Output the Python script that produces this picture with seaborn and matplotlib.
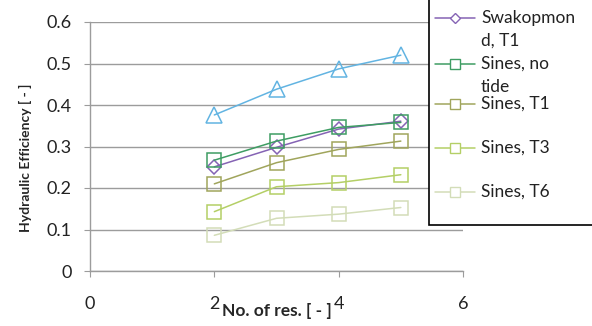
import matplotlib
matplotlib.use("Agg")
import matplotlib.pyplot as plt
import matplotlib.patches as mpatches
from matplotlib.lines import Line2D
import seaborn as sns
import pandas as pd

# data
n_res = [2, 3, 4, 5]
no_label_series = [0.376, 0.438, 0.487, 0.520]
swakopmond_t1 = [0.251, 0.298, 0.342, 0.361]
sines_no_tide = [0.267, 0.313, 0.346, 0.358]
sines_t1 = [0.210, 0.261, 0.293, 0.313]
sines_t3 = [0.143, 0.203, 0.213, 0.232]
sines_t6 = [0.086, 0.127, 0.137, 0.153]

# legend text as wrapped in the original (blue series has no entry)
legend_lines = [["Swakopmon", "d, T1"], ["Sines, no", "tide"],
                ["Sines, T1"], ["Sines, T3"], ["Sines, T6"]]
x_ticks = [0, 2, 4, 6]
y_ticks = [0, 0.1, 0.2, 0.3, 0.4, 0.5, 0.6]
y_ticklabels = ['0', '0.1', '0.2', '0.3', '0.4', '0.5', '0.6']

sns.set_style("white")
plt.rcParams['font.family'] = ['Lato', 'DejaVu Sans']

W, H = 592, 326
fig = plt.figure(figsize=(W / 100, H / 100), dpi=100)
ax = fig.add_axes([90 / W, 1 - 271 / H, 373 / W, 249 / H])

styles = [
    (no_label_series, '^', '#62b4e2', 11),
    (swakopmond_t1, 'D', '#8563b4', 7.5),
    (sines_no_tide, 's', '#3e9d63', 10.5),
    (sines_t1, 's', '#a0a55c', 10.5),
    (sines_t3, 's', '#b4cf66', 10.5),
    (sines_t6, 's', '#d3ddb8', 10.5),
]

for vals, mk, col, ms in styles:
    df = pd.DataFrame({'n': n_res, 'eff': vals})
    sns.lineplot(data=df, x='n', y='eff', ax=ax, color=col, marker=mk,
                 markersize=ms, markerfacecolor='none', markeredgecolor=col,
                 markeredgewidth=1.1, linewidth=1.1)

ax.set_xlim(0, 6)
ax.set_ylim(0, 0.6)
ax.set_xticks(x_ticks)
ax.set_yticks(y_ticks)
ax.set_yticklabels(y_ticklabels)
ax.grid(axis='y', color='#9c9c9c', linewidth=1)
ax.set_axisbelow(True)
for side in ['top', 'right']:
    ax.spines[side].set_visible(False)
for side in ['left', 'bottom']:
    ax.spines[side].set_color('#9c9c9c')
    ax.spines[side].set_linewidth(1)
ax.tick_params(axis='y', left=True, length=4, color='#9c9c9c', pad=9,
               labelsize=13, labelcolor='#222222')
ax.tick_params(axis='x', bottom=True, length=4, color='#9c9c9c', pad=14,
               labelsize=13, labelcolor='#222222')

ax.set_xlabel('No. of res. [ - ]', fontsize=12.5, fontweight='bold')
ax.xaxis.label.set_va('center')
ax.xaxis.set_label_coords(0.5, -(311 - 271) / 249)
ax.set_ylabel('Hydraulic Efficiency [ - ]', fontsize=10, fontweight='bold')
ax.yaxis.set_label_coords(-0.155, (271 - 158) / 249)

# legend box, cut off at the top and right like the original
fig.patches.append(mpatches.Rectangle((429 / W, 1 - 225 / H), 0.5, 0.8,
                                      transform=fig.transFigure,
                                      facecolor='white', edgecolor='black',
                                      linewidth=1.2, zorder=5))

entry_y = [18, 64, 104, 148, 192]
line_gap = 23
for (vals, mk, col, ms), lines, yy in zip(styles[1:], legend_lines, entry_y):
    fy = 1 - yy / H
    fig.add_artist(Line2D([435 / W, 475 / W], [fy, fy], color=col,
                          linewidth=1.1, transform=fig.transFigure, zorder=6))
    fig.add_artist(Line2D([455 / W], [fy], marker=mk, markersize=ms * 0.7,
                          markerfacecolor='white', markeredgecolor=col,
                          markeredgewidth=1.0, transform=fig.transFigure,
                          zorder=7))
    for k, txt in enumerate(lines):
        fig.text(481 / W, 1 - (yy + k * line_gap) / H, txt, fontsize=12.5,
                 color='#222222', va='center', ha='left', zorder=7)

fig.savefig('out.png', dpi=100)
